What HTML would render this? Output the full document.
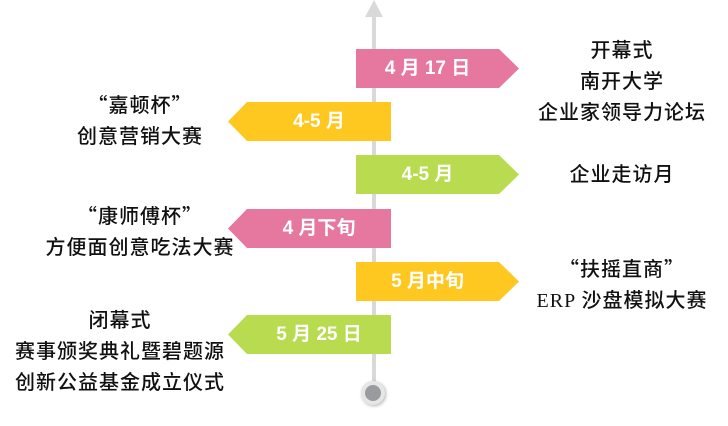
<!DOCTYPE html>
<html><head><meta charset="utf-8"><style>
body{margin:0;width:728px;height:426px;background:#fff;position:relative;overflow:hidden;font-family:"Liberation Sans","Noto Sans CJK SC",sans-serif}
.t{position:absolute;color:#fff;font-weight:bold;font-size:19px;text-align:center;line-height:39px;height:39px}
.r{clip-path:polygon(0 0,143px 0,163px 50%,143px 100%,0 100%);width:163px;left:356px}
.l{clip-path:polygon(19px 0,163px 0,163px 100%,19px 100%,0 50%);width:163px;left:228px}
.x{position:absolute;text-align:center;font-size:20px;line-height:31px;color:#111;letter-spacing:1px;white-space:nowrap;font-family:"Liberation Serif","Noto Sans CJK SC",sans-serif;font-weight:500}
.q{font-family:"Noto Sans CJK SC",sans-serif}
</style></head><body>
<div style="position:absolute;left:372px;top:14px;width:4px;height:372px;background:#d9d9d9"></div>
<div style="position:absolute;left:365px;top:0;width:0;height:0;border-left:9px solid transparent;border-right:9px solid transparent;border-bottom:17px solid #d9d9d9"></div>
<div style="position:absolute;left:361px;top:381px;width:24px;height:24px;border-radius:50%;background:#e6e6e6;box-shadow:1px 1px 3px rgba(0,0,0,.3)"></div>
<div style="position:absolute;left:365px;top:385px;width:16px;height:16px;border-radius:50%;background:#999b9e"></div>

<div class="t r" style="top:49px;background:#e6779f;padding-right:20px;box-sizing:border-box">4 月 17 日</div>
<div class="t l" style="top:102px;background:#ffc820;padding-left:19px;box-sizing:border-box">4-5 月</div>
<div class="t r" style="top:155px;background:#b8db4f;padding-right:20px;box-sizing:border-box">4-5 月</div>
<div class="t l" style="top:209px;background:#e6779f;padding-left:19px;box-sizing:border-box">4 月下旬</div>
<div class="t r" style="top:262px;background:#ffc820;padding-right:20px;box-sizing:border-box">5 月中旬</div>
<div class="t l" style="top:315px;background:#b8db4f;padding-left:19px;box-sizing:border-box">5 月 25 日</div>

<div class="x" style="left:522px;width:200px;top:36px">开幕式<br>南开大学<br>企业家领导力论坛</div>
<div class="x" style="left:522px;width:200px;top:160px">企业走访月</div>
<div class="x" style="left:522px;width:200px;top:252px"><span class="q">“</span>扶摇直商<span class="q">”</span><br>ERP 沙盘模拟大赛</div>
<div class="x" style="left:40px;width:200px;top:88px"><span class="q">“</span>嘉顿杯<span class="q">”</span><br>创意营销大赛</div>
<div class="x" style="left:20px;width:240px;top:199px"><span class="q">“</span>康师傅杯<span class="q">”</span><br>方便面创意吃法大赛</div>
<div class="x" style="left:0;width:240px;top:306px">闭幕式<br>赛事颁奖典礼暨碧题源<br>创新公益基金成立仪式</div>
</body></html>
